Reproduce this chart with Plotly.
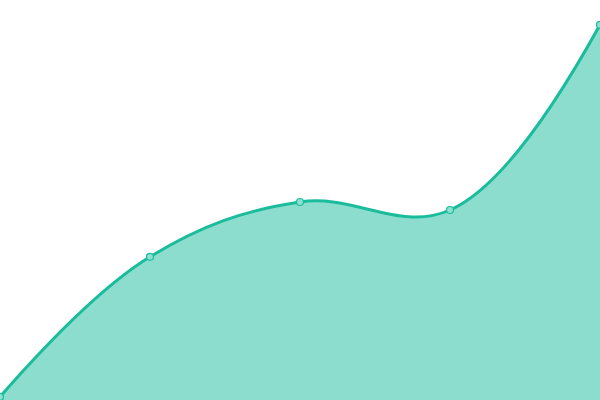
import plotly.graph_objects as go

# chart data
x_vals = [0, 1, 2, 3, 4]
y_vals = [0.8, 35.8, 49.5, 47.5, 93.8]

LINE = "#1abc9c"

fig = go.Figure(
    go.Scatter(
        x=x_vals,
        y=y_vals,
        mode="lines+markers",
        line=dict(color=LINE, width=3, shape="spline", smoothing=1.1),
        marker=dict(size=7, color="#8ce0d0", line=dict(color=LINE, width=1.2)),
        fill="tozeroy",
        fillcolor="rgba(26,188,156,0.5)",
        hoverinfo="skip",
    )
)

fig.update_layout(
    width=600,
    height=400,
    margin=dict(l=0, r=0, t=0, b=0),
    paper_bgcolor="white",
    plot_bgcolor="white",
    showlegend=False,
    xaxis=dict(range=[0, 4], visible=False, fixedrange=True),
    yaxis=dict(range=[0, 100], visible=False, fixedrange=True),
)

# drop the page's default body margin so the chart fills the window
fig.write_html(
    "out.html",
    config={"displayModeBar": False},
    post_script="document.body.style.margin='0';",
)
